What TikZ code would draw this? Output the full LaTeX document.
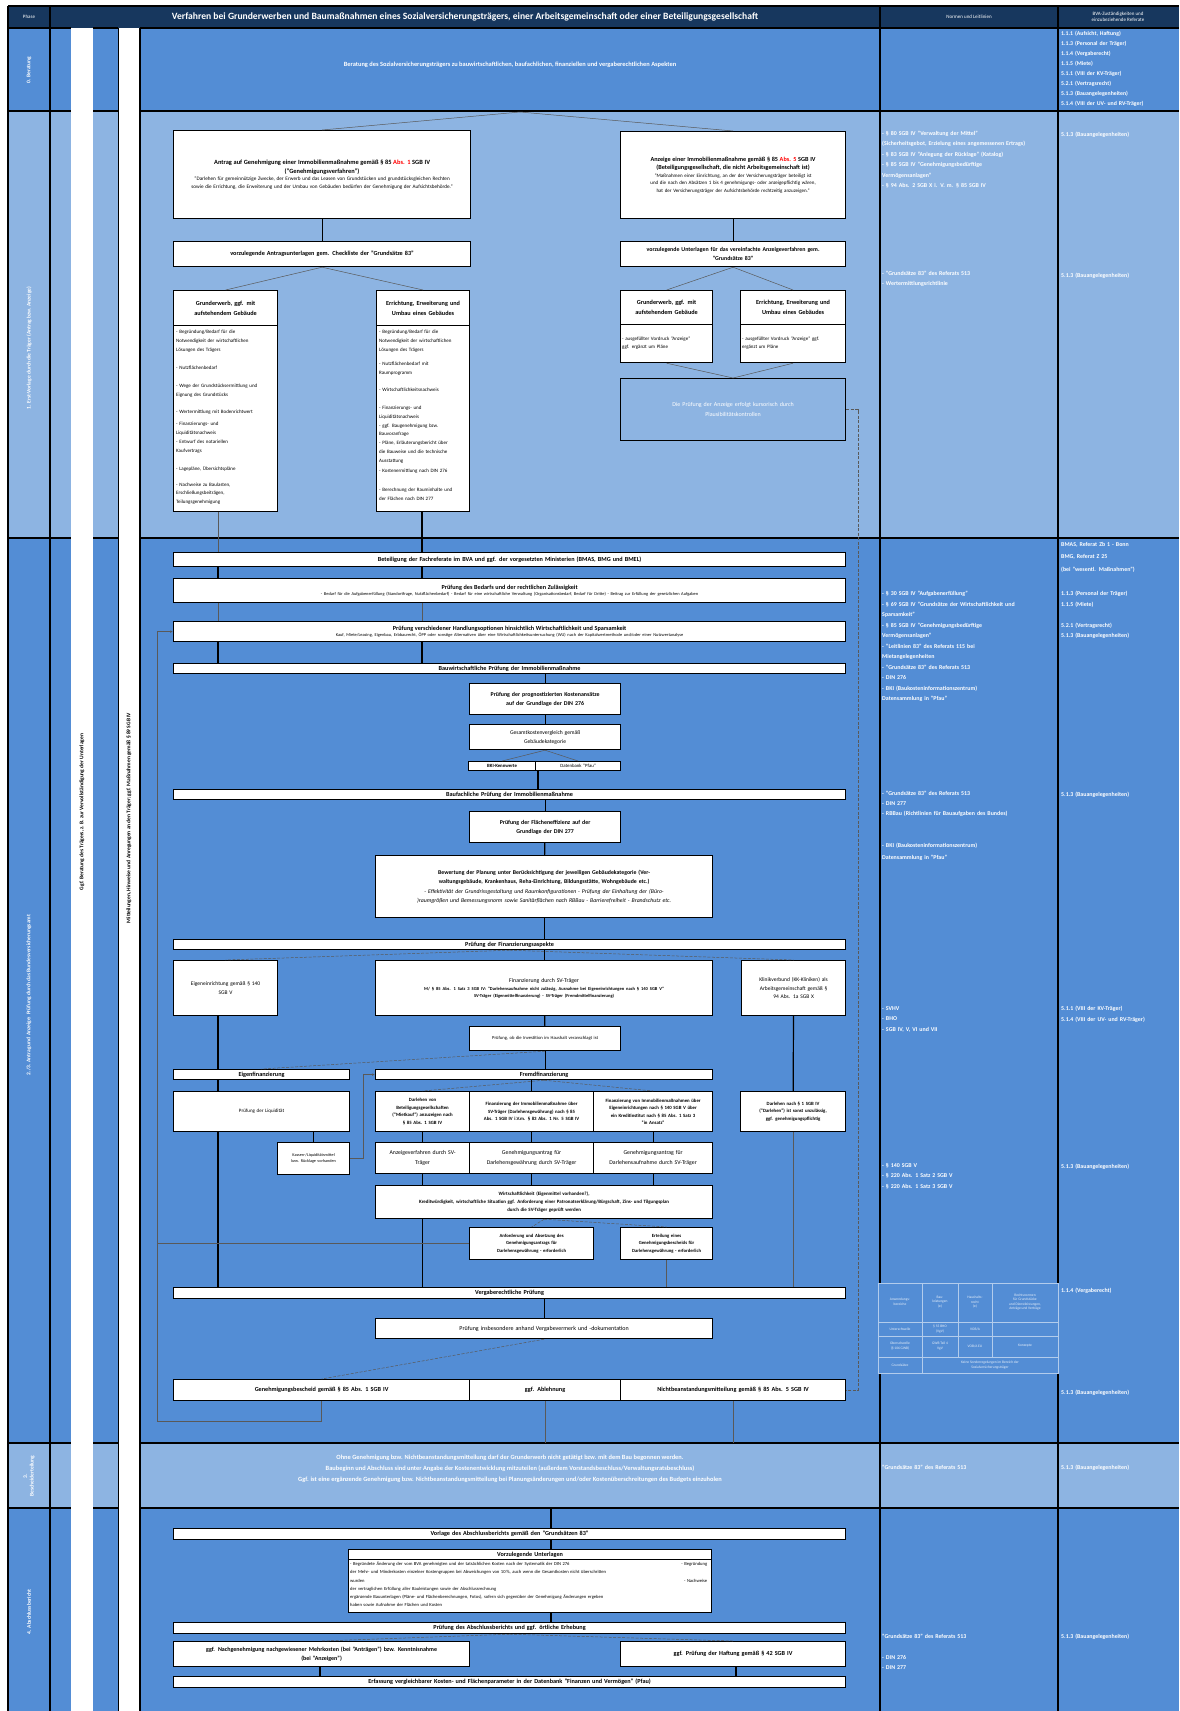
\documentclass[tikz,border=0pt]{standalone}
\usepackage{fontspec}
\setmainfont{Carlito}
\usetikzlibrary{arrows.meta,calc}
\definecolor{navy}{HTML}{17375E}
\definecolor{mblue}{HTML}{538DD5}
\definecolor{lblue}{HTML}{8DB4E2}
\newcommand\fsz[2]{\fontsize{#1}{#2}\selectfont}
\newcommand\Bx[7]{\pgfmathsetmacro\tw{#4-3}\node[bx,anchor=north west,minimum width=#4pt,minimum height=#5pt,text width=\tw pt,#6] (#1) at (#2,#3) {#7};}
\tikzset{
 bx/.style={draw=black, fill=white, line width=1.2pt, inner sep=0.5pt, align=center, font=\fsz{5}{6.5}},
 barx/.style={font=\bfseries\fsz{6.2}{7}},
 bo/.style={font=\bfseries\fsz{6.2}{8.5}},
 cn/.style={line width=1.2pt, draw=black},
 tn/.style={line width=0.5pt, draw=black!65},
 dn/.style={line width=0.5pt, draw=black!65, dashed, dash pattern=on 3pt off 1.5pt},
 wt/.style={text=white, inner sep=0pt},
 nrm/.style={text=white, font=\bfseries\fsz{5.9}{10.5}, align=left, anchor=north west, inner sep=0pt, text width=176pt},
 bt/.style={anchor=north west, align=left, inner sep=0pt, text width=99pt, font=\fsz{5}{8.7}},
 lane/.style={rotate=90, font=\bfseries\fsz{5.5}{6.5}, align=center, inner sep=0pt},
 tb/.style={text=white!85!mblue, font=\fsz{3.6}{4.6}, align=center, inner sep=0pt},
}
\begin{document}
\begin{tikzpicture}[x=1pt,y=-1pt]
\useasboundingbox (0,0) rectangle (1179,1711);
\fill[white] (0,0) rectangle (1179,1711);
% backgrounds
\fill[navy] (8,6) rectangle (1179,28);
\fill[mblue] (8,28) rectangle (1179,111);
\fill[lblue] (8,111) rectangle (1179,538);
\fill[mblue] (8,538) rectangle (1179,1443);
\fill[lblue] (8,1443) rectangle (1179,1508);
\fill[mblue] (8,1508) rectangle (1179,1711);
\fill[white] (71,28) rectangle (93,1711);
\fill[white] (118,28) rectangle (140,1711);
% grid lines
\foreach \yy in {28,111,538,1443,1508}{
 \draw[line width=1.3pt] (8,\yy) -- (71,\yy);
 \draw[line width=1.3pt] (93,\yy) -- (118,\yy);
 \draw[line width=1.3pt] (140,\yy) -- (1179,\yy);}
\draw[line width=1.3pt] (8,6) -- (1179,6);
\draw[line width=1.3pt] (8,6) -- (8,1711);
\draw[line width=1.3pt] (50,6) -- (50,1711);
\draw[line width=0.8pt] (118,28) -- (118,1711);
\draw[line width=1.3pt] (140,28) -- (140,1711);
\draw[line width=1.3pt] (880,6) -- (880,1283) (880,1373) -- (880,1711);
\draw[line width=1.3pt] (1058,6) -- (1058,1283) (1058,1373) -- (1058,1711);
% header
\node[wt,font=\fsz{5}{6}] (hph) at (29,17) {Phase};
\node[wt,font=\bfseries\fsz{9.6}{11}] (htit) at (465,17) {Verfahren bei Grunderwerben und Baumaßnahmen eines Sozialversicherungsträgers, einer Arbeitsgemeinschaft oder einer Beteiligungsgesellschaft};
\node[wt,font=\fsz{5}{6}] (hnorm) at (969,17) {Normen und Leitlinien};
\node[wt,font=\fsz{5}{6.5},align=center] (hzust) at (1118,17) {BVA-Zuständigkeiten und\\einzubeziehende Referate};
% phase labels
\node[lane,text=white] (p0) at (29,70) {0. Beratung};
\node[lane,text=white] (p1) at (29,348) {1. Erst-Vorlage durch die Träger (Antrag bzw. Anzeige)};
\node[lane,text=white] (p2) at (29,995) {2./3. Antrag und Anzeige: Prüfung durch das Bundesversicherungsamt};
\node[lane,text=white] (p3) at (29,1476) {3.\\Bescheiderteilung};
\node[lane,text=white] (p4) at (29,1612) {4. Abschlussbericht};
\node[lane] (s1) at (82,812) {Ggf. Beratung des Trägers, z.\,B. zur Vervollständigung der Unterlagen};
\node[lane] (s2) at (129,818) {Mitteilungen, Hinweise und Anregungen an den Träger; ggf. Maßnahmen gemäß § 89 SGB IV};
% row 1
\node[wt,font=\bfseries\fsz{6.4}{7}] (r1txt) at (510,65) {Beratung des Sozialversicherungsträgers zu bauwirtschaftlichen, baufachlichen, finanziellen und vergaberechtlichen Aspekten};
\node[nrm,font=\bfseries\fsz{5.8}{10}] (z1) at (1061,31) {1.1.1 (Aufsicht, Haftung)\\1.1.3 (Personal der Träger)\\1.1.4 (Vergaberecht)\\1.1.5 (Miete)\\5.1.1 (VIII der KV-Träger)\\5.2.1 (Vertragsrecht)\\5.1.3 (Bauangelegenheiten)\\5.1.4 (VIII der UV- und RV-Träger)};
% row 2 left
\Bx{A}{173}{130}{297}{88}{}{{\bfseries\fsz{6.4}{8.5}Antrag auf Genehmigung einer Immobilienmaßnahme gemäß § 85 {\color{red}Abs. 1} SGB IV\\("Genehmigungsverfahren")\par}\fsz{5.2}{7.5}"Darlehen für gemeinnützige Zwecke, der Erwerb und das Leasen von Grundstücken und grundstücksgleichen Rechten sowie die Errichtung, die Erweiterung und der Umbau von Gebäuden bedürfen der Genehmigung der Aufsichtsbehörde."\par}
\Bx{B}{173}{241}{297}{25}{bo}{vorzulegende Antragsunterlagen gem. Checkliste der "Grundsätze 83"}
\Bx{Ch}{173}{290}{104}{35}{font=\bfseries\fsz{6.2}{10}}{Grunderwerb, ggf. mit\\aufstehendem Gebäude}
\Bx{Cb}{173}{325}{104}{186}{}{}
\node[bt] (Ct) at ([shift={(3,5)}]Cb.north west) {- Begründung/Bedarf für die\\Notwendigkeit der wirtschaftlichen\\Lösungen des Trägers\\[10pt]- Nutzflächenbedarf\\[9pt]- Wege der Grundstücksermittlung und\\Eignung des Grundstücks\\[9pt]- Wertermittlung mit Bodenrichtwert\\[3pt]- Finanzierungs- und\\Liquiditätsnachweis\\[1pt]- Entwurf des notariellen\\Kaufvertrags\\[9pt]- Lagepläne, Übersichtspläne\\[7pt]- Nachweise zu Baulasten,\\Erschließungsbeiträgen,\\Teilungsgenehmigung};
\Bx{Dh}{376}{290}{93}{35}{font=\bfseries\fsz{6.2}{10}}{Errichtung, Erweiterung und\\Umbau eines Gebäudes}
\Bx{Db}{376}{325}{93}{186}{}{}
\node[bt,text width=89pt] (Dt) at ([shift={(3,5)}]Db.north west) {- Begründung/Bedarf für die\\Notwendigkeit der wirtschaftlichen\\Lösungen des Trägers\\[6pt]- Nutzflächenbedarf mit\\Raumprogramm\\[8pt]- Wirtschaftlichkeitsnachweis\\[10pt]- Finanzierungs- und\\Liquiditätsnachweis\\- ggf. Baugenehmigung bzw.\\Bauvoranfrage\\- Pläne, Erläuterungsbericht über\\die Bauweise und die technische\\Ausstattung\\[2pt]- Kostenermittlung nach DIN 276\\[10pt]- Berechnung der Rauminhalte und\\der Flächen nach DIN 277};
% row 2 right
\Bx{E}{620}{131}{225}{87}{}{{\bfseries\fsz{6.2}{8.5}Anzeige einer Immobilienmaßnahme gemäß § 85 {\color{red}Abs. 5} SGB IV\\(Beteiligungsgesellschaft, die nicht Arbeitsgemeinschaft ist)\par}\fsz{5}{7.5}"Maßnahmen einer Einrichtung, an der der Versicherungsträger beteiligt ist und die nach den Absätzen 1 bis 4 genehmigungs- oder anzeigepflichtig wären, hat der Versicherungsträger der Aufsichtsbehörde rechtzeitig anzuzeigen."\par}
\Bx{F}{620}{241}{225}{25}{font=\bfseries\fsz{5.9}{9}}{vorzulegende Unterlagen für das vereinfachte Anzeigeverfahren gem.\\"Grundsätze 83"}
\Bx{Gh}{620}{290}{92}{34}{font=\bfseries\fsz{6.2}{10}}{Grunderwerb, ggf. mit\\aufstehendem Gebäude}
\Bx{Gb}{620}{324}{92}{38}{align=left,font=\fsz{5}{8}}{- ausgefüllter Vordruck "Anzeige"\\ggf. ergänzt um Pläne}
\Bx{Hh}{740}{290}{105}{34}{font=\bfseries\fsz{6.2}{10}}{Errichtung, Erweiterung und\\Umbau eines Gebäudes}
\Bx{Hb}{740}{324}{105}{38}{align=left,font=\fsz{5}{8}}{- ausgefüllter Vordruck "Anzeige" ggf.\\ergänzt um Pläne}
\Bx{I}{620}{378}{225}{62}{fill=lblue,text=white,font=\fsz{6}{9.5}}{Die Prüfung der Anzeige erfolgt kursorisch durch\\Plausibilitätskontrollen}
% row 2 norms
\node[nrm] (n2a) at (882,131) {- § 80 SGB IV "Verwaltung der Mittel"\\(Sicherheitsgebot, Erzielung eines angemessenen Ertrags)\\- § 83 SGB IV "Anlegung der Rücklage" (Katalog)\\- § 85 SGB IV "Genehmigungsbedürftige\\Vermögensanlagen"\\- § 94 Abs. 2 SGB X i. V. m. § 85 SGB IV};
\node[nrm] (n2b) at (882,271) {- "Grundsätze 83" des Referats 513\\- Wertermittlungsrichtlinie};
\node[nrm] (z2a) at (1061,132) {5.1.3 (Bauangelegenheiten)};
\node[nrm] (z2b) at (1061,273) {5.1.3 (Bauangelegenheiten)};
% row 3
\Bx{bet}{173}{552}{672}{14}{barx}{Beteiligung der Fachreferate im BVA und ggf. der vorgesetzten Ministerien (BMAS, BMG und BMEL)}
\Bx{bed}{173}{578}{672}{24}{}{{\bfseries\fsz{6.2}{8}Prüfung des Bedarfs und der rechtlichen Zulässigkeit\par}\fsz{4.4}{6}- Bedarf für die Aufgabenerfüllung (Standortfrage, Nutzflächenbedarf) - Bedarf für eine wirtschaftliche Verwaltung (Organisationsbedarf, Bedarf für Dritte) - Beitrag zur Erfüllung der gesetzlichen Aufgaben\par}
\Bx{hand}{173}{621}{672}{20}{}{{\bfseries\fsz{6.2}{7.5}Prüfung verschiedener Handlungsoptionen hinsichtlich Wirtschaftlichkeit und Sparsamkeit\par}\fsz{4.4}{5.5}Kauf, Miete/Leasing, Eigenbau, Erbbaurecht, ÖPP oder sonstige Alternativen über eine Wirtschaftlichkeitsuntersuchung (WU) nach der Kapitalwertmethode und/oder einer Nutzwertanalyse\par}
\Bx{bauw}{173}{663}{672}{10}{barx}{Bauwirtschaftliche Prüfung der Immobilienmaßnahme}
\Bx{kost}{469}{683}{151}{31}{font=\bfseries\fsz{5.9}{9}}{Prüfung der prognostizierten Kostenansätze\\auf der Grundlage der DIN 276}
\Bx{gesk}{469}{724}{151}{25}{font=\fsz{5.6}{9}}{Gesamtkostenvergleich gemäß\\Gebäudekategorie}
\Bx{bki}{468}{761}{67}{9}{font=\bfseries\fsz{4.8}{5.5}}{BKI-Kennwerte}
\Bx{pfau}{535}{761}{85}{9}{font=\fsz{4.8}{5.5}}{Datenbank "Pfau"}
\Bx{bauf}{173}{789}{672}{10}{barx}{Baufachliche Prüfung der Immobilienmaßnahme}
\Bx{flae}{469}{811}{151}{31}{font=\bfseries\fsz{5.9}{9}}{Prüfung der Flächeneffizienz auf der\\Grundlage der DIN 277}
\Bx{bew}{375}{855}{337}{62}{font=\fsz{5.8}{9.5}}{{\bfseries Bewertung der Planung unter Berücksichtigung der jeweiligen Gebäudekategorie (Verwaltungsgebäude, Krankenhaus, Reha-Einrichtung, Bildungsstätte, Wohngebäude etc.)\par}{\itshape - Effektivität der Grundrissgestaltung und Raumkonfigurationen - Prüfung der Einhaltung der (Büro-)raumgrößen und Bemessungsnorm sowie Sanitärflächen nach RBBau - Barrierefreiheit - Brandschutz etc.\par}}
\Bx{fin}{173}{939}{672}{10}{barx}{Prüfung der Finanzierungsaspekte}
\Bx{eig}{173}{960}{104}{55}{font=\fsz{5.5}{8.5}}{Eigeneinrichtung gemäß § 140\\SGB V}
\Bx{fsv}{375}{960}{337}{55}{font=\fsz{5.8}{8}}{Finanzierung durch SV-Träger\par\vspace{2pt}{\bfseries\fsz{4.5}{6.5}M/ § 85 Abs. 1 Satz 3 SGB IV: "Darlehensaufnahme nicht zulässig, Ausnahme bei Eigeneinrichtungen nach § 140 SGB V"\\SV-Träger (Eigenmittelfinanzierung) - SV-Träger (Fremdmittelfinanzierung)\par}}
\Bx{kk}{741}{960}{104}{55}{font=\fsz{5.5}{8.5}}{Klinikverbund (KK-Kliniken) als\\Arbeitsgemeinschaft gemäß §\\94 Abs. 1a SGB X}
\Bx{pob}{469}{1026}{151}{24}{font=\fsz{4.6}{6}}{Prüfung, ob die Investition im Haushalt veranschlagt ist}
\Bx{eigf}{173}{1069}{176}{10}{barx}{Eigenfinanzierung}
\Bx{fremd}{375}{1069}{337}{10}{barx}{Fremdfinanzierung}
\Bx{liq}{173}{1091}{176}{40}{font=\fsz{5}{6}}{Prüfung der Liquidität}
\Bx{kas}{277}{1142}{72}{32}{font=\fsz{4.2}{6}}{Kassen-/Liquiditätsmittel\\bzw. Rücklage vorhanden}
\Bx{f1}{375}{1091}{94}{40}{font=\bfseries\fsz{4.8}{7.5}}{Darlehen von\\Beteiligungsgesellschaften\\("Mietkauf") anzuzeigen nach\\§ 85 Abs. 1 SGB IV}
\Bx{f2}{469}{1091}{124}{40}{font=\bfseries\fsz{4.8}{7.5}}{Finanzierung der Immobilienmaßnahme über\\SV-Träger (Darlehensgewährung) nach § 85\\Abs. 1 SGB IV i.V.m. § 83 Abs. 1 Nr. 5 SGB IV}
\Bx{f3}{593}{1091}{119}{40}{font=\bfseries\fsz{4.8}{7.5}}{Finanzierung von Immobilienmaßnahmen über\\Eigeneinrichtungen nach § 140 SGB V über\\ein Kreditinstitut nach § 85 Abs. 1 Satz 3\\"in Ansatz"}
\Bx{darl}{740}{1091}{105}{40}{font=\bfseries\fsz{4.8}{7.5}}{Darlehen nach § 1 SGB IV\\("Darlehen") ist sonst unzulässig,\\ggf. genehmigungspflichtig}
\Bx{g1}{375}{1142}{94}{31}{font=\fsz{5.8}{10}}{Anzeigeverfahren durch SV-\\Träger}
\Bx{g2}{469}{1142}{124}{31}{font=\fsz{5.8}{10}}{Genehmigungsantrag für\\Darlehensgewährung durch SV-Träger}
\Bx{g3}{593}{1142}{119}{31}{font=\fsz{5.8}{10}}{Genehmigungsantrag für\\Darlehensaufnahme durch SV-Träger}
\Bx{wirt}{375}{1185}{337}{33}{font=\bfseries\fsz{4.9}{8}}{Wirtschaftlichkeit (Eigenmittel vorhanden?),\\Kreditwürdigkeit, wirtschaftliche Situation ggf. Anforderung einer Patronatserklärung/Bürgschaft, Zins- und Tilgungsplan\\durch die SV-Träger geprüft werden}
\Bx{anf}{469}{1227}{124}{32}{font=\bfseries\fsz{4.7}{7.5}}{Anforderung und Absetzung des\\Genehmigungsantrags für\\Darlehensgewährung - erforderlich}
\Bx{ert}{620}{1227}{92}{32}{font=\bfseries\fsz{4.7}{7.5}}{Erteilung eines\\Genehmigungsbescheids für\\Darlehensgewährung - erforderlich}
\Bx{verg}{173}{1287}{672}{11}{barx}{Vergaberechtliche Prüfung}
\Bx{pins}{375}{1318}{337}{20}{font=\fsz{6}{7}}{Prüfung insbesondere anhand Vergabevermerk und -dokumentation}
\Bx{gen}{173}{1379}{296}{21}{barx}{Genehmigungsbescheid gemäß § 85 Abs. 1 SGB IV}
\Bx{abl}{469}{1379}{151}{21}{barx}{ggf. Ablehnung}
\Bx{nb}{620}{1379}{225}{21}{barx}{Nichtbeanstandungsmitteilung gemäß § 85 Abs. 5 SGB IV}
% row 3 norms
\node[nrm,font=\bfseries\fsz{5.9}{12.5}] (z3a) at (1061,542) {BMAS, Referat Zb 1 - Bonn\\BMG, Referat Z 25\\(bei "wesentl. Maßnahmen")};
\node[nrm] (n3a) at (882,591) {- § 30 SGB IV "Aufgabenerfüllung"\\- § 69 SGB IV "Grundsätze der Wirtschaftlichkeit und\\Sparsamkeit"\\- § 85 SGB IV "Genehmigungsbedürftige\\Vermögensanlagen"\\- "Leitlinien 83" des Referats 115 bei\\Mietangelegenheiten\\- "Grundsätze 83" des Referats 513\\- DIN 276\\- BKI (Baukosteninformationszentrum)\\Datensammlung in "Pfau"};
\node[nrm] (z3b) at (1061,591) {1.1.3 (Personal der Träger)\\1.1.5 (Miete)\\[10.5pt]5.2.1 (Vertragsrecht)\\5.1.3 (Bauangelegenheiten)};
\node[nrm,font=\bfseries\fsz{5.9}{10}] (n3b) at (882,791) {- "Grundsätze 83" des Referats 513\\- DIN 277\\- RBBau (Richtlinien für Bauaufgaben des Bundes)};
\node[nrm,font=\bfseries\fsz{5.9}{12}] (n3c) at (882,843) {- BKI (Baukosteninformationszentrum)\\Datensammlung in "Pfau"};
\node[nrm] (z3c) at (1061,792) {5.1.3 (Bauangelegenheiten)};
\node[nrm] (n3d) at (882,1006) {- SVHV\\- BHO\\- SGB IV, V, VI und VII};
\node[nrm] (z3d) at (1061,1006) {5.1.1 (VIII der KV-Träger)\\5.1.4 (VIII der UV- und RV-Träger)};
\node[nrm] (n3e) at (882,1163) {- § 140 SGB V\\- § 220 Abs. 1 Satz 2 SGB V\\- § 220 Abs. 1 Satz 3 SGB V};
\node[nrm] (z3e) at (1061,1164) {5.1.3 (Bauangelegenheiten)};
\node[nrm] (z3f) at (1061,1288) {1.1.4 (Vergaberecht)};
\node[nrm] (z3g) at (1061,1390) {5.1.3 (Bauangelegenheiten)};
% table in norms column
\begin{scope}[draw=white!55!mblue, line width=0.4pt]
\draw (878,1283) rectangle (1058,1373);
\draw (922,1283) -- (922,1373);
\draw (958,1283) -- (958,1357) (992,1283) -- (992,1357);
\draw (878,1322) -- (1058,1322) (878,1336) -- (1058,1336) (878,1357) -- (1058,1357);
\end{scope}
\node[tb] (t11) at (900,1302) {Anwendungs-\\bereiche};
\node[tb] (t12) at (940,1302) {Bau-\\leistungen\\(€)};
\node[tb] (t13) at (975,1302) {Haushalts-\\recht\\(€)};
\node[tb] (t14) at (1025,1302) {Rechtsnormen\\für Grundstücke\\und Dienstleistungen,\\Anträge und Verträge};
\node[tb] (t21) at (900,1329) {Unterschwelle};
\node[tb] (t22) at (940,1329) {§ 55 BHO\\(VgV)};
\node[tb] (t23) at (975,1329) {VOB/A};
\node[tb] (t31) at (900,1346) {Oberschwelle\\(§ 106 GWB)};
\node[tb] (t32) at (940,1346) {GWB Teil 4\\VgV};
\node[tb] (t33) at (975,1346) {VOB/A EU};
\node[tb] (t34) at (1025,1346) {Konzepte};
\node[tb] (t41) at (900,1365) {Grundsätze};
\node[tb] (t42) at (990,1365) {Keine Sonderregelungen im Bereich der\\Sozialversicherungsträger};
% row 4
\node[wt,align=center,font=\bfseries\fsz{6.4}{11}] (r4txt) at (510,1469) {Ohne Genehmigung bzw. Nichtbeanstandungsmitteilung darf der Grunderwerb nicht getätigt bzw. mit dem Bau begonnen werden.\\Baubeginn und Abschluss sind unter Angabe der Kostenentwicklung mitzuteilen (außerdem Vorstandsbeschluss/Verwaltungsratsbeschluss)\\Ggf. ist eine ergänzende Genehmigung bzw. Nichtbeanstandungsmitteilung bei Planungsänderungen und/oder Kostenüberschreitungen des Budgets einzuholen};
\node[nrm] (n4) at (882,1465) {"Grundsätze 83" des Referats 513};
\node[nrm] (z4) at (1061,1465) {5.1.3 (Bauangelegenheiten)};
% row 5
\Bx{vorl}{173}{1528}{672}{11}{barx}{Vorlage des Abschlussberichts gemäß den "Grundsätzen 83"}
\Bx{vzh}{348}{1549}{363}{10}{barx}{Vorzulegende Unterlagen}
\Bx{vzb}{348}{1559}{363}{53}{}{}
\node[bt,text width=357pt,font=\fsz{4.6}{8.3}] (vzt) at ([shift={(2,2.5)}]vzb.north west) {- Begründete Änderung der vom BVA genehmigten und der tatsächlichen Kosten nach der Systematik der DIN 276\hfill - Begründung\\der Mehr- und Minderkosten einzelner Kostengruppen bei Abweichungen von 10\,\%, auch wenn die Gesamtkosten nicht überschritten\\wurden\hfill - Nachweise\\der vertraglichen Erfüllung aller Bauleistungen sowie der Abschlussrechnung\\ergänzende Bauunterlagen (Pläne- und Flächenberechnungen, Fotos), sofern sich gegenüber der Genehmigung Änderungen ergeben\\haben sowie Aufnahme der Flächen und Kosten};
\Bx{pab}{173}{1622}{672}{11}{barx}{Prüfung des Abschlussberichts und ggf. örtliche Erhebung}
\Bx{nach}{173}{1641}{296}{25}{font=\bfseries\fsz{6}{9.5}}{ggf. Nachgenehmigung nachgewiesener Mehrkosten (bei "Anträgen") bzw. Kenntnisnahme\\(bei "Anzeigen")}
\Bx{haft}{620}{1641}{225}{25}{barx}{ggf. Prüfung der Haftung gemäß § 42 SGB IV}
\Bx{erf}{173}{1676}{672}{11}{barx}{Erfassung vergleichbarer Kosten- und Flächenparameter in der Datenbank "Finanzen und Vermögen" (Pfau)}
\node[nrm] (n5a) at (882,1634) {"Grundsätze 83" des Referats 513};
\node[nrm] (n5b) at (882,1655) {- DIN 276\\- DIN 277};
\node[nrm] (z5) at (1061,1634) {5.1.3 (Bauangelegenheiten)};
% helper coordinates
\coordinate (xa) at (218,0);
\coordinate (xb) at (422,0);
\coordinate (xi) at (157,0);
\coordinate (xj) at (320,0);
\coordinate (xk) at (736,0);
\coordinate (xl) at (551,0);
\coordinate (xm) at (858,0);
\coordinate (xs) at (538,0);
\coordinate (t2) at (520,112);
\coordinate (bot) at (0,1421);
\coordinate (end3) at (0,1443);
\coordinate (r5top) at (551,1509);
% connectors row 2
\draw[tn] (t2) -- (A.north);
\draw[tn] (t2) -- (E.north);
\draw[cn] (A) -- (B);
\draw[tn] (B.south) -- (Ch.north);
\draw[tn] (B.south) -- (Dh.north);
\draw[cn] (E) -- (F);
\draw[tn] (F.south) -- (Gh.north);
\draw[tn] (F.south) -- (Hh.north);
\draw[tn] (Gb.south) -- (I.north);
\draw[tn] (Hb.south) -- (I.north);
\draw[dn] (I.east) -- (I.east -| xm) -- (nb.east -| xm) -- (nb.east);
\draw[tn] (Cb.south -| xa) -- (bet.north -| xa);
\draw[cn] (Db.south -| xb) -- (bet.north -| xb);
% connectors row 3
\draw[cn] (bet.south -| xa) -- (bed.north -| xa);
\draw[cn] (bet.south -| xb) -- (bed.north -| xb);
\draw[tn] (bed.south -| xa) -- (hand.north -| xa);
\draw[tn] (bed.south -| xb) -- (hand.north -| xb);
\draw[cn] (hand.south -| xa) -- (bauw.north -| xa);
\draw[cn] (hand.south -| xb) -- (bauw.north -| xb);
\draw[cn] (bauw.south -| kost.north) -- (kost.north);
\draw[cn] (kost) -- (gesk);
\draw[tn] (gesk.south) -- (bki.north);
\draw[tn] (gesk.south) -- (pfau.north);
\draw[cn] (bki.south -| xs) -- (bauf.north -| xs);
\draw[cn] (bauf.south -| flae.north) -- (flae.north);
\draw[cn] (flae) -- (bew);
\draw[cn] (bew.south) -- (fin.north -| bew.south);
\draw[dn] (fin.south) -- (eig.north);
\draw[cn] (fin.south -| fsv.north) -- (fsv.north);
\draw[dn] (fin.south) -- (kk.north);
\draw[cn] (fsv) -- (pob);
\draw[dn] (pob.south) -- (eigf.north);
\draw[cn] (pob.south) -- (fremd.north -| pob.south);
\draw[cn] (eig.south -| xa) -- (eigf.north -| xa);
\draw[cn] (eigf.south -| xa) -- (liq.north -| xa);
\draw[cn] (liq.south -| xa) -- (verg.north -| xa);
\draw[cn] (liq.south -| kas.north) -- (kas.north);
\draw[tn,-{Latex[length=3pt,width=2.5pt]}] (kas.east) -- ++(13,0) |- (fremd.west);
\draw[cn] (kk) -- (darl);
\draw[dn] (fremd.south) -- (f1.north);
\draw[cn] (fremd.south -| f2.north) -- (f2.north);
\draw[dn] (fremd.south) -- (f3.north);
\draw[cn] (f1) -- (g1);
\draw[cn] (f2) -- (g2);
\draw[cn] (f3) -- (g3);
\draw[cn] (g1.south) -- (wirt.north -| g1.south);
\draw[cn] (g2.south) -- (wirt.north -| g2.south);
\draw[cn] (g3.south) -- (wirt.north -| g3.south);
\draw[dn] (wirt.south) -- (anf.north);
\draw[dn] (wirt.south) -- (ert.north);
\draw[cn] (wirt.south -| g1.south) -- (verg.north -| g1.south);
\draw[tn] (ert.south) -- (verg.north -| ert.south);
\draw[tn] (darl.south) -- (verg.north -| darl.south);
\draw[tn] (anf.west) -- (anf.west -| xi);
\draw[cn] (verg.south -| pins.north) -- (pins.north);
\draw[dn] (pins.south) -- (gen.north);
\draw[tn,-{Latex[length=3pt,width=2.5pt]}] (gen.south) |- (bot -| xi) |- (hand.west);
\draw[tn] (abl.south) -- (abl.south |- end3);
\draw[tn] (nb.south) -- (nb.south |- end3);
% connectors row 5
\draw[cn] (r5top) -- (vorl.north -| r5top);
\draw[cn] (vorl.south -| xl) -- (vzh.north -| xl);
\draw[cn] (vzb.south -| xl) -- (pab.north -| xl);
\draw[dn] (pab.south) -- (nach.north);
\draw[dn] (pab.south) -- (haft.north);
\draw[cn] (nach.south -| xj) -- (erf.north -| xj);
\draw[cn] (haft.south -| xk) -- (erf.north -| xk);
\end{tikzpicture}
\end{document}
